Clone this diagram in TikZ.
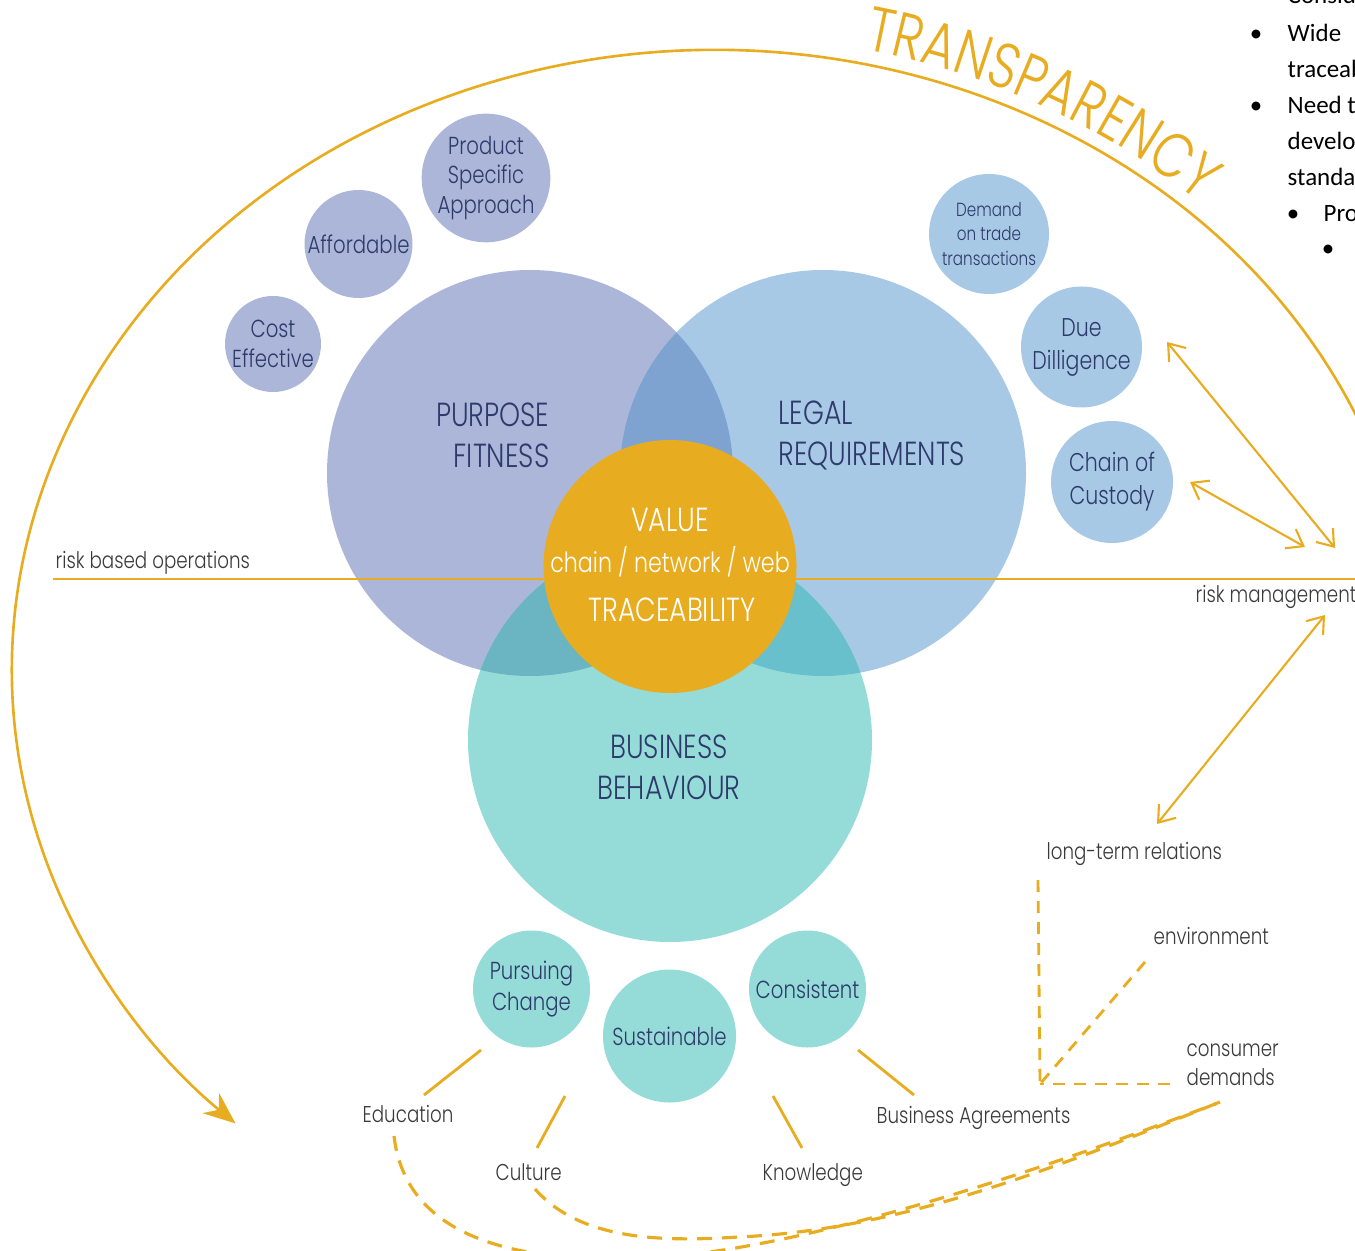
\documentclass[tikz,border=0pt]{standalone}
\usepackage{fontspec}
\setmainfont{Poppins Light}[FakeStretch=0.8]
\newfontfamily\docfont{Carlito}
\usetikzlibrary{arrows.meta,calc,decorations.text}

\definecolor{purposefill}{HTML}{ABB6D9}
\definecolor{legalfill}{HTML}{A8C9E6}
\definecolor{businessfill}{HTML}{95DCD8}
\definecolor{purplelegal}{HTML}{7FA3D1}
\definecolor{purplebiz}{HTML}{6BB4C2}
\definecolor{legalbiz}{HTML}{68C0CD}
\definecolor{valuefill}{HTML}{E8AC20}
\definecolor{navytext}{HTML}{2E3A6B}
\definecolor{graytext}{HTML}{3A3A3A}

\begin{document}
\begin{tikzpicture}[
    bigcircle/.style={circle, minimum size=4.06cm, inner sep=0pt},
    smallcircle/.style={circle, inner sep=0pt, align=center, text=navytext},
    bigtext/.style={text=navytext, inner sep=0pt, font=\fontsize{9.5}{11.6}\selectfont},
    valuetext/.style={text=white, inner sep=0pt, font=\fontsize{9.5}{11.6}\selectfont},
    label/.style={text=graytext, font=\fontsize{6.5}{8.2}\selectfont, inner sep=0pt},
    doctext/.style={text=black, font=\docfont\fontsize{7.1}{10.2}\selectfont, inner sep=0pt},
    orangeline/.style={draw=valuefill, line width=0.8pt},
    twoway/.style={draw=valuefill, line width=0.6pt,
        {Straight Barb[length=0.15cm,width=0.22cm]}-{Straight Barb[length=0.15cm,width=0.22cm]}},
    dashlink/.style={draw=valuefill, line width=0.8pt, dash pattern=on 0.12cm off 0.09cm},
    dashcurve/.style={draw=valuefill, line width=0.9pt, dash pattern=on 0.15cm off 0.1cm}
]
    % frame
    \useasboundingbox (0,0) rectangle (13.55,-12.51);
    \clip (0,0) rectangle (13.55,-12.51);

    % Big circles
    \node[bigcircle, fill=purposefill] (purpose) at (5.30,-4.73) {};
    \node[bigcircle, fill=legalfill] (legal) at (8.23,-4.73) {};
    \node[bigcircle, fill=businessfill, minimum size=4.04cm] (business) at (6.70,-7.40) {};

    % Overlaps
    \begin{scope}
        \clip (purpose.center) circle (2.03);
        \fill[purplelegal] (legal.center) circle (2.03);
    \end{scope}
    \begin{scope}
        \clip (purpose.center) circle (2.03);
        \fill[purplebiz] (business.center) circle (2.02);
    \end{scope}
    \begin{scope}
        \clip (legal.center) circle (2.03);
        \fill[legalbiz] (business.center) circle (2.02);
    \end{scope}

    % Circle titles
    \node[bigtext, align=right, anchor=east] (purposetitle) at (5.50,-4.355) {PURPOSE\\FITNESS};
    \node[bigtext, align=left, anchor=west] (legaltitle) at (7.78,-4.355) {LEGAL\\REQUIREMENTS};
    \node[bigtext, align=center] (businesstitle) at (6.69,-7.675) {BUSINESS\\BEHAVIOUR};

    % Risk line
    \coordinate (riskL) at (0.53,-5.79);
    \coordinate (riskR) at (13.60,-5.79);
    \draw[orangeline] (riskL) -- (riskR);
    \node[label, anchor=base west] (riskops) at (0.55,-5.69) {risk based operations};
    \node[label, anchor=base west] (riskman) at (11.95,-6.02) {risk management};

    % Value circle
    \node[circle, fill=valuefill, minimum size=2.53cm, inner sep=0pt] (value) at (6.70,-5.665) {};
    \node[valuetext] (valuetitle) at (6.70,-5.20) {VALUE};
    \node[valuetext, font=\fontsize{7.9}{10}\selectfont] (chain) at (6.70,-5.62) {chain / network / web};
    \node[valuetext] (trace) at (6.72,-6.10) {TRACEABILITY};

    % Purpose satellites
    \node[smallcircle, fill=purposefill, minimum size=0.96cm, font=\fontsize{7}{8.5}\selectfont] (cost) at (2.73,-3.44) {Cost\\Effective};
    \node[smallcircle, fill=purposefill, minimum size=1.08cm, font=\fontsize{7}{8.5}\selectfont] (afford) at (3.585,-2.44) {Affordable};
    \node[smallcircle, fill=purposefill, minimum size=1.26cm, font=\fontsize{7}{8.5}\selectfont] (product) at (4.86,-1.78) {Product\\Specific\\Approach};

    % Legal satellites
    \node[smallcircle, fill=legalfill, minimum size=1.20cm, font=\fontsize{5.4}{6.9}\selectfont] (demand) at (9.89,-2.34) {Demand\\on trade\\transactions};
    \node[smallcircle, fill=legalfill, minimum size=1.21cm, font=\fontsize{7.3}{9.4}\selectfont] (due) at (10.815,-3.47) {Due\\Dilligence};
    \node[smallcircle, fill=legalfill, minimum size=1.22cm, font=\fontsize{7.3}{9.4}\selectfont] (custody) at (11.12,-4.82) {Chain of\\Custody};

    % Business satellites
    \node[smallcircle, fill=businessfill, minimum size=1.17cm, font=\fontsize{7}{8.8}\selectfont] (pursuing) at (5.315,-9.89) {Pursuing\\Change};
    \node[smallcircle, fill=businessfill, minimum size=1.33cm, font=\fontsize{7}{8.8}\selectfont] (sustain) at (6.695,-10.36) {Sustainable};
    \node[smallcircle, fill=businessfill, minimum size=1.17cm, font=\fontsize{7}{8.8}\selectfont] (consistent) at (8.075,-9.89) {Consistent};

    % Transparency arc
    \coordinate (ellc) at (7.15,-6.70);
    \draw[orangeline, line width=0.75pt, -{Stealth[length=0.32cm,width=0.26cm]}]
        ($(ellc)+(20:7.03 and 6.20)$) arc[start angle=20, end angle=227, x radius=7.03, y radius=6.20];
    \path[decorate, decoration={text along path, text align=left,
        text={|\fontsize{18}{18}\selectfont\color{valuefill}|TRANSPARENCY}}]
        ($(ellc)+(78:7.17 and 6.34)$) arc[start angle=78, end angle=38, x radius=7.17, y radius=6.34];

    % Arrows to risk management
    \coordinate (dueend) at (11.67,-3.42);
    \coordinate (dueriskend) at (13.35,-5.48);
    \coordinate (custend) at (11.90,-4.82);
    \coordinate (custriskend) at (13.05,-5.47);
    \coordinate (riskdown) at (13.25,-6.15);
    \coordinate (longtop) at (11.57,-8.24);
    \draw[twoway] (dueend) -- (dueriskend);
    \draw[twoway] (custend) -- (custriskend);
    \draw[twoway] (riskdown) -- (longtop);

    % Lower right labels
    \node[label, anchor=base west] (longterm) at (10.46,-8.59) {long-term relations};
    \node[label, anchor=base west] (environ) at (11.53,-9.44) {environment};
    \node[label, align=left, anchor=west] (consumer) at (11.86,-10.645) {consumer\\demands};

    \coordinate (meet) at (10.40,-10.84);
    \draw[dashlink] (10.38,-8.80) -- (meet);
    \draw[dashlink] (11.45,-9.62) -- (meet);
    \draw[dashlink] (11.70,-10.84) -- (meet);

    % Bottom labels
    \node[label, anchor=base west] (education) at (3.62,-11.22) {Education};
    \node[label, anchor=base west] (culture) at (4.95,-11.80) {Culture};
    \node[label, anchor=base west] (knowledge) at (7.62,-11.80) {Knowledge};
    \node[label, anchor=base west] (agreements) at (8.76,-11.23) {Business Agreements};

    \draw[orangeline] (4.81,-10.50) -- (4.24,-10.95);
    \draw[orangeline] (5.65,-10.96) -- (5.37,-11.48);
    \draw[orangeline] (7.73,-10.96) -- (8.02,-11.48);
    \draw[orangeline] (8.58,-10.50) -- (9.14,-10.95);

    % Dashed links to consumer demands
    \coordinate (demandsend) at (12.20,-11.02);
    \draw[dashcurve] (3.94,-11.36) .. controls (4.05,-12.30) and (5.00,-12.65) .. (6.50,-12.58)
        .. controls (8.00,-12.50) and (10.30,-11.75) .. (demandsend);
    \draw[dashcurve] (5.35,-11.89) .. controls (5.80,-12.40) and (6.60,-12.42) .. (7.38,-12.37)
        .. controls (9.00,-12.30) and (10.50,-11.70) .. (demandsend);

    % Document text at the edge
    \node[doctext, anchor=base west] (consid) at (12.87,-0.04) {Consid};
    \node[doctext, anchor=base] (bulA) at (12.56,-0.42) {•};
    \node[doctext, anchor=base west] (wide) at (12.87,-0.42) {Wide};
    \node[doctext, anchor=base west] (traceab) at (12.87,-0.78) {traceab};
    \node[doctext, anchor=base] (bulB) at (12.56,-1.14) {•};
    \node[doctext, anchor=base west] (need) at (12.87,-1.14) {Need t};
    \node[doctext, anchor=base west] (develo) at (12.87,-1.50) {develo};
    \node[doctext, anchor=base west] (standa) at (12.87,-1.86) {standa};
    \node[doctext, anchor=base] (bulC) at (12.93,-2.22) {•};
    \node[doctext, anchor=base west] (pro) at (13.23,-2.22) {Pro};
    \node[doctext, anchor=base] (bulD) at (13.28,-2.57) {•};
\end{tikzpicture}
\end{document}
